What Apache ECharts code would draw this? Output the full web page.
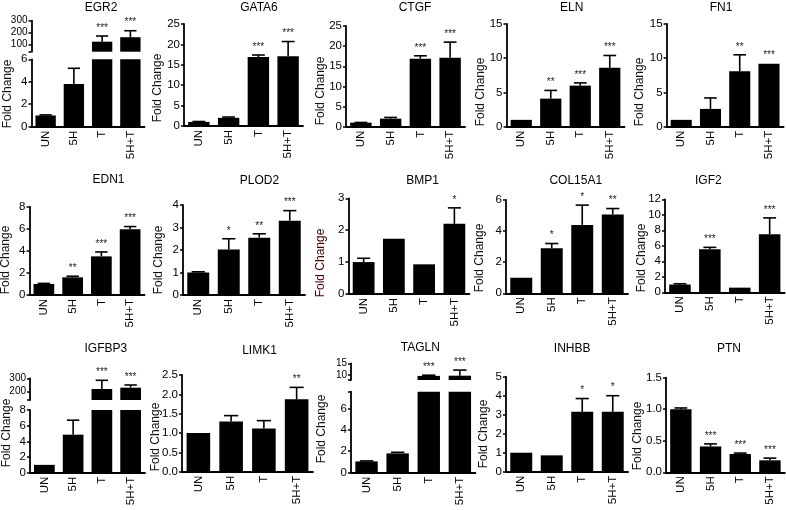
<!DOCTYPE html>
<html><head><meta charset="utf-8">
<script src="https://cdn.jsdelivr.net/npm/echarts@6/dist/echarts.min.js"></script>
<style>html,body{margin:0;padding:0;background:#fff}#c{width:786px;height:510px}</style>
</head><body><div id="c"></div><script>
const categories = ['UN', '5H', 'T', '5H+T'];

const EGR2 = [1.0, 3.8, 122, 160];
const EGR2_err = [1.05, 5.2, 170, 215];
const EGR2_sig = ['', '', '***', '***'];
const EGR2_upperTicks = [100, 200, 300];

const GATA6 = [1.0, 2.0, 16.9, 17.1];
const GATA6_err = [1.1, 2.2, 17.4, 20.7];
const GATA6_sig = ['', '', '***', '***'];

const CTGF = [1.0, 2.0, 16.9, 17.1];
const CTGF_err = [1.05, 2.3, 17.6, 21.0];
const CTGF_sig = ['', '', '***', '***'];

const ELN = [1.0, 4.1, 6.0, 8.6];
const ELN_err = [1.0, 5.3, 6.4, 10.4];
const ELN_sig = ['', '**', '***', '***'];

const FN1 = [1.0, 2.6, 8.1, 9.2];
const FN1_err = [1.0, 4.2, 10.5, 9.2];
const FN1_sig = ['', '', '**', '***'];

const EDN1 = [1.0, 1.6, 3.5, 5.95];
const EDN1_err = [1.05, 1.7, 3.9, 6.2];
const EDN1_sig = ['', '**', '***', '***'];

const PLOD2 = [1.0, 2.02, 2.55, 3.3];
const PLOD2_err = [1.03, 2.5, 2.72, 3.75];
const PLOD2_sig = ['', '*', '**', '***'];

const BMP1 = [1.0, 1.73, 0.93, 2.2];
const BMP1_err = [1.12, 1.73, 0.93, 2.7];
const BMP1_sig = ['', '', '', '*'];

const COL15A1 = [1.0, 2.9, 4.4, 5.07];
const COL15A1_err = [1.0, 3.2, 5.67, 5.45];
const COL15A1_sig = ['', '*', '*', '**'];

const IGF2 = [1.0, 5.55, 0.6, 7.5];
const IGF2_err = [1.1, 5.8, 0.6, 9.6];
const IGF2_sig = ['', '***', '', '***'];

const IGFBP3 = [1.0, 4.85, 220, 230];
const IGFBP3_err = [1.0, 6.7, 285, 250];
const IGFBP3_sig = ['', '', '***', '***'];
const IGFBP3_upperTicks = [200, 300];

const LIMK1 = [1.0, 1.3, 1.12, 1.87];
const LIMK1_err = [1.0, 1.45, 1.32, 2.18];
const LIMK1_sig = ['', '', '', '**'];

const TAGLN = [1.05, 1.8, 9.6, 9.7];
const TAGLN_err = [1.1, 1.9, 9.9, 12.1];
const TAGLN_sig = ['', '', '***', '***'];
const TAGLN_upperTicks = [10, 15];
const TAGLN_lowerTicks = [0, 2, 4, 6];

const INHBB = [1.0, 0.86, 3.15, 3.15];
const INHBB_err = [1.0, 0.86, 3.85, 4.0];
const INHBB_sig = ['', '', '*', '*'];

const PTN = [1.0, 0.41, 0.29, 0.19];
const PTN_err = [1.02, 0.45, 0.305, 0.225];
const PTN_sig = ['', '***', '***', '***'];

const FONT = "'Liberation Sans', Arial, Helvetica, sans-serif";
const dec1 = v => Number(v).toFixed(1);

const panels = [
  {gene:'EGR2', mean:EGR2, err:EGR2_err, sig:EGR2_sig, left:31.5, width:113, title:[101, 8.5], nameGap:18, nameY:94,
    lower:{top:59.3, bottom:126.7, min:0, max:6, interval:2},
    upper:{top:20.7, bottom:51.7, min:37, max:300, labels:EGR2_upperTicks, ticks:[37].concat(EGR2_upperTicks)}},
  {gene:'GATA6', mean:GATA6, err:GATA6_err, sig:GATA6_sig, left:184, width:119, title:[259, 8.3], nameGap:20, nameY:88,
    lower:{top:24, bottom:126, min:0, max:25, interval:5}},
  {gene:'CTGF', mean:CTGF, err:CTGF_err, sig:CTGF_sig, left:346, width:119, title:[415, 8.3], nameGap:19, nameY:91,
    lower:{top:26, bottom:126.7, min:0, max:25, interval:5}},
  {gene:'ELN', mean:ELN, err:ELN_err, sig:ELN_sig, left:506.5, width:118, title:[571.7, 8], nameGap:20, nameY:92,
    lower:{top:24, bottom:126.7, min:0, max:15, interval:5}},
  {gene:'FN1', mean:FN1, err:FN1_err, sig:FN1_sig, left:666.6, width:117, title:[721, 8], nameGap:21, nameY:92,
    lower:{top:24, bottom:126.7, min:0, max:15, interval:5}},

  {gene:'EDN1', mean:EDN1, err:EDN1_err, sig:EDN1_sig, left:29.5, width:115, title:[108.5, 180.3], nameGap:18, nameY:260,
    lower:{top:206.7, bottom:295, min:0, max:8, interval:2}},
  {gene:'PLOD2', mean:PLOD2, err:PLOD2_err, sig:PLOD2_sig, left:183, width:122, title:[259.5, 181.3], nameGap:18, nameY:260,
    lower:{top:205, bottom:295, min:0, max:4, interval:1}},
  {gene:'BMP1', mean:BMP1, err:BMP1_err, sig:BMP1_sig, left:348.5, width:121, title:[422.5, 180.8], nameGap:22, nameY:263,
    nameColor:'#400000',
    lower:{top:198.3, bottom:294, min:0, max:3, interval:1}},
  {gene:'COL15A1', mean:COL15A1, err:COL15A1_err, sig:COL15A1_sig, left:506, width:122, title:[575.8, 181], nameGap:20, nameY:258,
    lower:{top:200, bottom:293.3, min:0, max:6, interval:2}},
  {gene:'IGF2', mean:IGF2, err:IGF2_err, sig:IGF2_sig, left:665, width:119.6, title:[708.3, 181], nameGap:17, nameY:258,
    lower:{top:199.3, bottom:292.3, min:0, max:12, interval:2}},

  {gene:'IGFBP3', mean:IGFBP3, err:IGFBP3_err, sig:IGFBP3_sig, left:30, width:115, title:[105.8, 348.8], nameGap:17, nameY:433,
    lower:{top:410, bottom:472.7, min:0, max:8, interval:2},
    upper:{top:378.3, bottom:400, min:138, max:300, labels:IGFBP3_upperTicks, ticks:[138].concat(IGFBP3_upperTicks)}},
  {gene:'LIMK1', mean:LIMK1, err:LIMK1_err, sig:LIMK1_sig, left:182, width:131, title:[259.5, 350.8], nameGap:20, nameY:437,
    lower:{top:375, bottom:471.7, min:0, max:2.5, interval:0.5, fmt:dec1}},
  {gene:'TAGLN', mean:TAGLN, err:TAGLN_err, sig:TAGLN_sig, left:351, width:124.4, title:[420.3, 348.3], nameGap:23, nameY:429,
    lower:{top:391.7, bottom:472.7, min:0, max:7.55, labels:TAGLN_lowerTicks, ticks:TAGLN_lowerTicks.concat([7.55])},
    upper:{top:363.3, bottom:380, min:7.85, max:15, labels:TAGLN_upperTicks, ticks:[7.85].concat(TAGLN_upperTicks)}},
  {gene:'INHBB', mean:INHBB, err:INHBB_err, sig:INHBB_sig, left:506, width:122, title:[572.2, 348.8], nameGap:16, nameY:434,
    lower:{top:376.7, bottom:471.7, min:0, max:5, interval:1}},
  {gene:'PTN', mean:PTN, err:PTN_err, sig:PTN_sig, left:666, width:118.8, title:[729, 349], nameGap:22, nameY:436,
    lower:{top:377.7, bottom:472.3, min:0, max:1.5, interval:0.5, fmt:dec1}}
];

const BAR_W = 0.72;
function makeRender(sig) {
  return function (params, api) {
    const i = api.value(0), v = api.value(1), e = api.value(2);
    const cs = params.coordSys;
    const top = cs.y - 0.5, bot = cs.y + cs.height + 0.5;
    const pv = api.coord([i, v]), pe = api.coord([i, e]);
    const x = pv[0];
    const hi = Math.min(pv[1], pe[1]);
    const children = [];
    if (hi < top || hi > bot) return {type: 'group', children};
    const bw = api.size([1, 0])[0] * BAR_W;
    const cap = bw * 0.6;
    if (e > v) {
      children.push({type: 'line', shape: {x1: x, y1: Math.min(pv[1], bot), x2: x, y2: pe[1]},
        style: {stroke: '#000', lineWidth: 1.6}});
      children.push({type: 'line', shape: {x1: x - cap / 2, y1: pe[1], x2: x + cap / 2, y2: pe[1]},
        style: {stroke: '#000', lineWidth: 1.6}});
    }
    if (sig[i]) {
      children.push({type: 'text', x: x, y: hi - 8,
        style: {text: sig[i], fill: '#222', fontSize: 10, fontFamily: FONT, align: 'center', verticalAlign: 'middle'}});
    }
    return {type: 'group', children};
  };
}

const grids = [], xAxes = [], yAxes = [], series = [], titles = [];

function addSegment(p, seg, isLower) {
  const gi = grids.length;
  grids.push({left: p.left, width: p.width, top: seg.top, height: seg.bottom - seg.top,
    containLabel: false, outerBoundsMode: 'none'});
  xAxes.push({gridIndex: gi, type: 'category', data: categories, show: isLower, boundaryGap: true,
    axisLine: {show: true, onZero: false, lineStyle: {color: '#000', width: 1.8}},
    axisTick: {show: false},
    axisLabel: {show: true, rotate: 90, margin: 4, interval: 0, color: '#000', fontSize: 11.5, fontFamily: FONT},
    splitLine: {show: false}});
  const y = {gridIndex: gi, type: 'value', min: seg.min, max: seg.max,
    axisLine: {show: true, onZero: false, lineStyle: {color: '#000', width: 1.8}},
    axisTick: {show: true, inside: false, length: 3, lineStyle: {color: '#000', width: 1.5}},
    axisLabel: {show: true, margin: 4, color: '#000', fontSize: isLower ? 11.5 : 10, fontFamily: FONT,
      hideOverlap: false, showMinLabel: true, showMaxLabel: true},
    splitLine: {show: false}};
  if (seg.interval) y.interval = seg.interval;
  if (seg.fmt) y.axisLabel.formatter = seg.fmt;
  if (seg.labels) {
    y.axisLabel.customValues = seg.labels;
    y.axisTick.customValues = seg.ticks;
  }
  yAxes.push(y);
  series.push({type: 'bar', xAxisIndex: gi, yAxisIndex: gi, data: p.mean, barWidth: (BAR_W * 100) + '%',
    itemStyle: {color: '#000'}, clip: true, silent: true, z: 2});
  series.push({type: 'custom', xAxisIndex: gi, yAxisIndex: gi,
    data: p.mean.map((v, i) => [i, v, p.err[i]]), encode: {x: 0, y: 1},
    renderItem: makeRender(p.sig), silent: true, z: 3});
}

// invisible axis that only carries the "Fold Change" name, centred where the reference puts it
function addNameAxis(p) {
  const gi = grids.length;
  const h = 90;
  grids.push({left: p.left, width: 10, top: p.nameY - h / 2, height: h, containLabel: false, outerBoundsMode: 'none'});
  xAxes.push({gridIndex: gi, type: 'value', show: false, min: 0, max: 1});
  yAxes.push({gridIndex: gi, type: 'value', min: 0, max: 1, z: 10,
    axisLine: {show: false}, axisTick: {show: false}, axisLabel: {show: false}, splitLine: {show: false},
    name: 'Fold Change', nameLocation: 'middle', nameGap: p.nameGap, nameMoveOverlap: false,
    nameTruncate: {maxWidth: 400},
    nameTextStyle: {color: p.nameColor || '#111', fontSize: 12, fontFamily: FONT}});
}

panels.forEach(p => {
  titles.push({text: p.gene, left: p.title[0], top: p.title[1] - 6.5, textAlign: 'center', padding: 0,
    textStyle: {fontSize: 12, fontWeight: 'normal', color: '#000', fontFamily: FONT}});
  addSegment(p, p.lower, true);
  if (p.upper) addSegment(p, p.upper, false);
  addNameAxis(p);
});

const chart = echarts.init(document.getElementById('c'), null, {renderer: 'canvas'});
chart.setOption({
  backgroundColor: '#fff',
  animation: false,
  title: titles,
  grid: grids,
  xAxis: xAxes,
  yAxis: yAxes,
  series: series
});
</script></body></html>
